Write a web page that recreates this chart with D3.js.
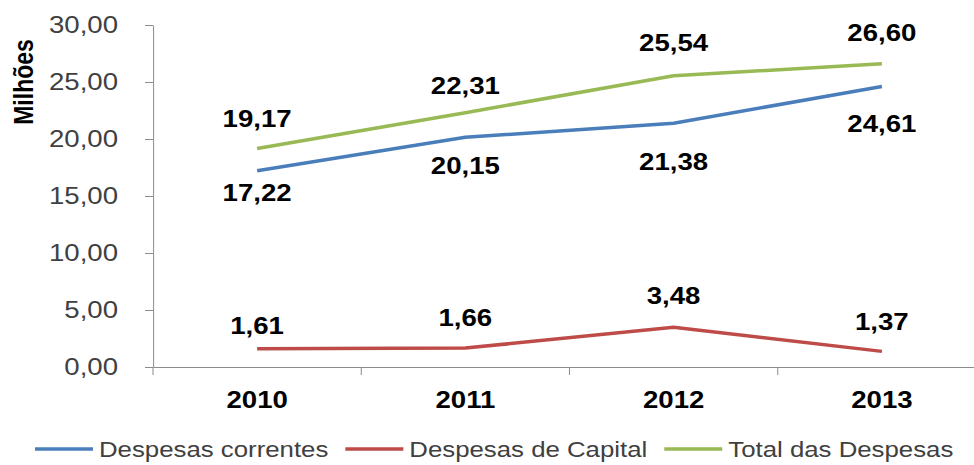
<!DOCTYPE html>
<html>
<head>
<meta charset="utf-8">
<script src="https://cdn.jsdelivr.net/npm/d3@7/dist/d3.min.js"></script>
<style>
  body { margin: 0; background: #fff; }
  text { font-family: Arial, "Liberation Sans", sans-serif; }
</style>
</head>
<body>
<svg id="chart" width="974" height="465"></svg>
<script>
let years = ["2010", "2011", "2012", "2013"];
let correntes = [17.22, 20.15, 21.38, 24.61];
let capital = [1.61, 1.66, 3.48, 1.37];
let total = [19.17, 22.31, 25.54, 26.60];
let seriesNames = ["Despesas correntes", "Despesas de Capital", "Total das Despesas"];
let yTicks = [0, 5, 10, 15, 20, 25, 30];

// the original picture was widened, so draw narrow and stretch
let stretch = 1.2;
let svg = d3.select("#chart");
let g = svg.append("g").attr("transform", `scale(${stretch},1)`);

let plotLeft = 153 / stretch;
let plotRight = 986 / stretch;
let plotTop = 25;
let plotBottom = 367;

let x = d3.scaleBand().domain(years).range([plotLeft, plotRight]);
let y = d3.scaleLinear().domain([0, 30]).range([plotBottom, plotTop]);
let fmt = (v) => d3.format(".2f")(v).replace(".", ",");

// y axis
let yAxis = g.append("g")
  .attr("transform", `translate(${plotLeft},0)`)
  .call(d3.axisLeft(y).tickValues(yTicks).tickFormat(fmt)
    .tickSize(8 / stretch).tickSizeOuter(0).tickPadding(27 / stretch));
yAxis.selectAll("path, line")
  .attr("stroke", "#8c8c8c")
  .attr("vector-effect", "non-scaling-stroke");
yAxis.selectAll("text")
  .attr("font-size", 23)
  .attr("fill", "#404040")
  .style("font-family", "Arial, 'Liberation Sans', sans-serif");

// x axis
let xAxis = g.append("g")
  .attr("transform", `translate(0,${plotBottom})`)
  .call(d3.axisBottom(x).tickSize(0).tickSizeOuter(0).tickPadding(25));
xAxis.selectAll("path")
  .attr("stroke", "#8c8c8c")
  .attr("vector-effect", "non-scaling-stroke");
xAxis.selectAll("text")
  .attr("font-size", 23)
  .attr("font-weight", "bold")
  .attr("fill", "#000")
  .style("font-family", "Arial, 'Liberation Sans', sans-serif");

// tick marks between categories
g.selectAll(".xtick")
  .data(years)
  .enter()
  .append("line")
  .attr("class", "xtick")
  .attr("x1", (d) => x(d))
  .attr("x2", (d) => x(d))
  .attr("y1", plotBottom)
  .attr("y2", plotBottom + 8)
  .attr("stroke", "#8c8c8c")
  .attr("vector-effect", "non-scaling-stroke");

// y axis title
g.append("text")
  .attr("transform", `translate(${23 / stretch},82) rotate(-90)`)
  .attr("text-anchor", "middle")
  .attr("dominant-baseline", "central")
  .attr("font-size", 23)
  .attr("font-weight", "bold")
  .text("Milhões");

let series = [
  { name: seriesNames[0], values: correntes, color: "#4a7ebb", labelDy: [22, 28, 38, 37] },
  { name: seriesNames[1], values: capital, color: "#be4b48", labelDy: [-23, -30, -32, -30] },
  { name: seriesNames[2], values: total, color: "#98b954", labelDy: [-30, -27, -33, -31] }
];

let line = d3.line()
  .x((d, i) => x(years[i]) + x.bandwidth() / 2)
  .y((d) => y(d));

series.forEach((s) => {
  g.append("path")
    .datum(s.values)
    .attr("d", line)
    .attr("fill", "none")
    .attr("stroke", s.color)
    .attr("stroke-width", 3.5)
    .attr("vector-effect", "non-scaling-stroke");

  g.selectAll(null)
    .data(s.values)
    .enter()
    .append("text")
    .attr("x", (d, i) => x(years[i]) + x.bandwidth() / 2)
    .attr("y", (d, i) => y(d) + s.labelDy[i])
    .attr("dy", "0.36em")
    .attr("text-anchor", "middle")
    .attr("font-size", 23)
    .attr("font-weight", "bold")
    .attr("fill", "#000")
    .text((d) => fmt(d));
});

// legend
let lx = 35 / stretch;
let legendY = 449;
series.forEach((s) => {
  g.append("line")
    .attr("x1", lx)
    .attr("x2", lx + 58 / stretch)
    .attr("y1", legendY)
    .attr("y2", legendY)
    .attr("stroke", s.color)
    .attr("stroke-width", 3.5)
    .attr("vector-effect", "non-scaling-stroke");
  let t = g.append("text")
    .attr("x", lx + 64 / stretch)
    .attr("y", legendY)
    .attr("dy", "0.36em")
    .attr("font-size", 21.5)
    .attr("fill", "#404040")
    .text(s.name);
  lx = lx + 64 / stretch + t.node().getComputedTextLength() + 17 / stretch;
});
</script>
</body>
</html>
